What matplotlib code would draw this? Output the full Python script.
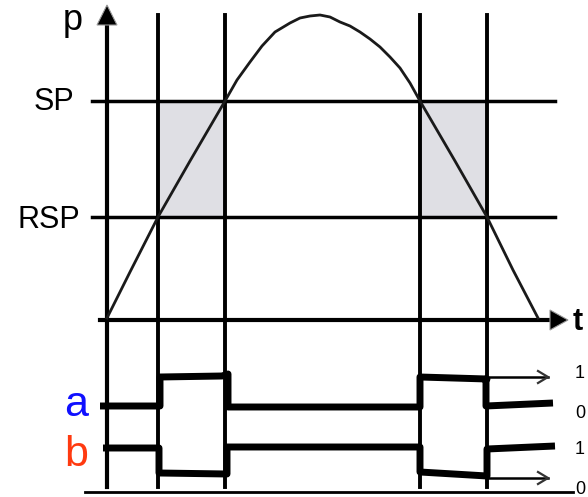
import matplotlib.pyplot as plt
from matplotlib.patches import Rectangle, Polygon

plt.rcParams['font.family'] = ['Liberation Sans', 'DejaVu Sans']

# switching instants (pixel x) and pressure levels (pixel y)
t_switch = [158, 225, 420, 487]
sp_level = 101
rsp_level = 217
t_axis_y = 320

# pressure curve p(t)
curve_x = [107, 130, 158, 190, 225, 237, 250, 262, 275, 290, 300, 310, 320,
           330, 340, 350, 360, 370, 380, 390, 400, 410, 420, 455, 487, 513, 538]
curve_y = [318, 272, 217, 161, 101, 80, 62, 46, 32, 23, 18, 16, 15,
           17, 22, 26, 32, 39, 47, 57, 68, 83, 101, 161, 217, 270, 318]

# signal a and b traces
a_x = [100, 160, 160, 222, 228, 228, 420, 420, 487, 486, 486, 553]
a_y = [406, 406, 377, 376, 374, 407, 407, 377, 379, 379, 406, 403]
b_x = [103, 159, 159, 227, 227, 420, 420, 487, 487, 555]
b_y = [448, 448, 473, 474, 447, 447, 472, 476, 449, 446]

fig = plt.figure(figsize=(5.88, 4.97), dpi=100)
ax = fig.add_axes([0, 0, 1, 1])
ax.set_xlim(0, 588)
ax.set_ylim(497, 0)
ax.axis('off')

# shaded hysteresis areas
for x0, x1 in [(t_switch[0], t_switch[1]), (t_switch[2], t_switch[3])]:
    ax.add_patch(Rectangle((x0, sp_level), x1 - x0, rsp_level - sp_level,
                           facecolor='#dfdfe4', edgecolor='none', zorder=0))

# vertical guide lines
for xs in t_switch:
    ax.plot([xs, xs], [15, 487], color='black', lw=2.8, zorder=2)

# SP / RSP lines
ax.plot([92, 555], [sp_level, sp_level], color='black', lw=2.5, zorder=2)
ax.plot([92, 555], [rsp_level, rsp_level], color='black', lw=2.5, zorder=2)

# axes
ax.plot([107, 107], [24, 487], color='black', lw=3, zorder=3)
ax.add_patch(Polygon([[97, 25], [117, 25], [107, 5]], closed=True,
                     facecolor='black', edgecolor='#999999', lw=0.8, zorder=3))
ax.plot([100, 552], [t_axis_y, t_axis_y], color='black', lw=3, zorder=3)
ax.add_patch(Polygon([[550, 310], [550, 330], [568, 320]], closed=True,
                     facecolor='black', edgecolor='#999999', lw=0.8, zorder=3))

# pressure curve
ax.plot(curve_x, curve_y, color='#1a1a1a', lw=2, zorder=4)

# signals
ax.plot(a_x, a_y, color='black', lw=5, solid_capstyle='butt', zorder=5)
ax.plot(b_x, b_y, color='black', lw=5, solid_capstyle='butt', zorder=5)

# thin arrows continuing level lines
for yy in [377, 478]:
    ax.plot([487, 548], [yy, yy], color='black', lw=1.8, zorder=4)
    ax.plot([538, 548, 538], [yy - 6, yy, yy + 6], color='#333333', lw=1.6, zorder=4)

# bottom line
ax.plot([85, 573], [492, 492], color='black', lw=2, zorder=3)

# labels
ax.text(83, 30, 'p', fontsize=26, ha='right', va='baseline')
ax.text(74, 102, 'SP', fontsize=22, ha='right', va='center')
ax.text(80, 220, 'RSP', fontsize=22, ha='right', va='center')
ax.text(573, 322, 't', fontsize=22, fontweight='bold', ha='left', va='center')
ax.text(88, 416, 'a', fontsize=31, color='#1010ff', ha='right', va='baseline')
ax.text(88, 466, 'b', fontsize=31, color='#ff3a10', ha='right', va='baseline')

for yy, s in [(373, '1'), (413, '0'), (450, '1'), (490, '0')]:
    ax.text(575, yy, s, fontsize=13, ha='left', va='center')

plt.savefig('out.png', dpi=100)
